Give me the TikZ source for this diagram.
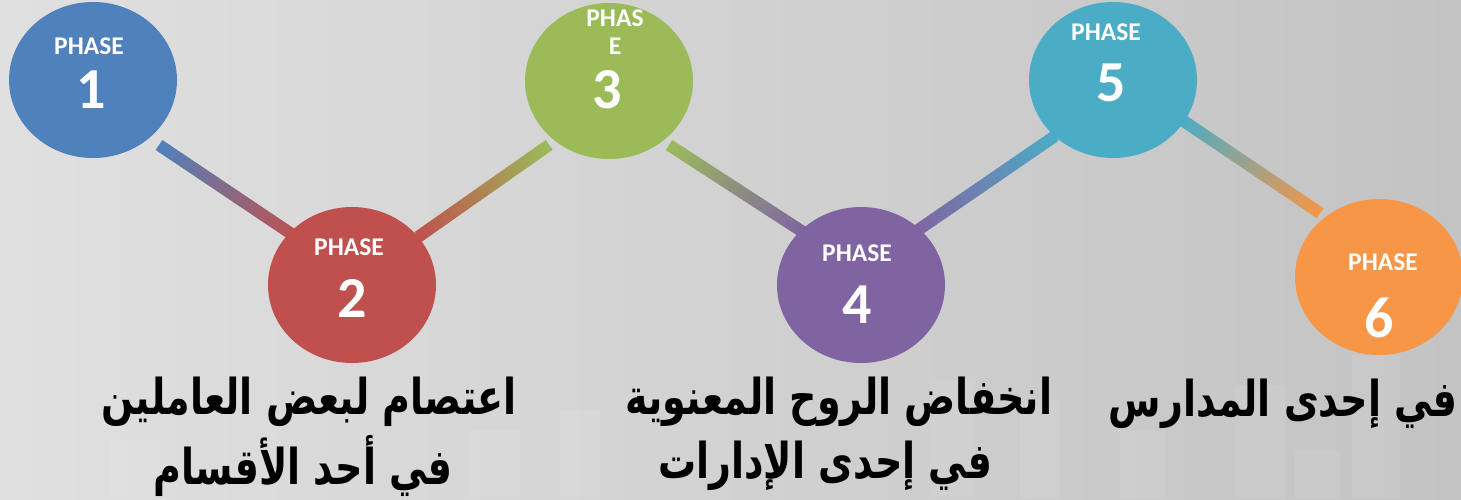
\documentclass[tikz,border=0pt]{standalone}
\usepackage{fontspec}
\usepackage{graphicx}
\usetikzlibrary{shapes.geometric,calc}
\setmainfont{Carlito}
\newfontfamily\arabicfont[Script=Arabic]{DejaVu Sans}
\TeXXeTstate=1
\definecolor{bgL}{HTML}{E0E0E0}
\definecolor{bgR}{HTML}{C3C3C3}
\definecolor{pblue}{HTML}{4F81BD}
\definecolor{pred}{HTML}{C0504D}
\definecolor{pgreen}{HTML}{9BBB59}
\definecolor{ppurple}{HTML}{8064A2}
\definecolor{paqua}{HTML}{4BACC6}
\definecolor{porange}{HTML}{F79646}
\tikzset{
  phasecircle/.style={ellipse, minimum width=168pt, minimum height=156pt, inner sep=0pt, draw=none},
  phaseword/.style={text=white, font=\bfseries\fontsize{25.5}{28}\selectfont, inner sep=0pt},
  phasenum/.style={text=white, font=\bfseries\fontsize{58}{60}\selectfont, inner sep=0pt},
  conn/.style={line width=12pt, line cap=butt},
  artext/.style={text=black, font=\arabicfont\bfseries\fontsize{38}{40}\selectfont, inner sep=0pt},
  skyline/.style={fill=white, opacity=0.08, draw=none}
}
\newcommand\artall[1]{\scalebox{1}[1.3]{\beginR #1\endR}}
\newcommand\gradconn[4]{%
  \foreach \k in {0,...,39}{%
    \pgfmathsetmacro\ta{\k/40}%
    \pgfmathsetmacro\tb{(\k+1.06)/40}%
    \pgfmathsetmacro\pc{100-(\k+0.5)*2.5}%
    \draw[conn, #3!\pc!#4] ($(#1)!\ta!(#2)$) -- ($(#1)!\tb!(#2)$);
  }}
\begin{document}
\begin{tikzpicture}[x=1pt,y=-1pt]
\useasboundingbox (0,0) rectangle (1461,499);
\clip (0,0) rectangle (1461,499);
\shade[left color=bgL, right color=bgR] (0,0) rectangle (1461,499);
% faint skyline
\fill[skyline] (110,440) rectangle (160,499);
\fill[skyline] (470,430) rectangle (520,499);
\fill[skyline] (560,410) rectangle (600,499);
\fill[skyline] (930,380) rectangle (975,499);
\fill[skyline] (1020,400) rectangle (1060,499);
\fill[skyline] (1120,430) rectangle (1165,499);
\fill[skyline] (1235,385) rectangle (1285,499);
\fill[skyline] (1295,450) rectangle (1340,499);
\fill[skyline] (1352,355) rectangle (1400,499);
% connector end points
\coordinate (a12) at (159,145); \coordinate (b12) at (299,239);
\coordinate (a23) at (418,237); \coordinate (b23) at (549,145);
\coordinate (a34) at (669,145); \coordinate (b34) at (803,232);
\coordinate (a45) at (918,230); \coordinate (b45) at (1055,136);
\coordinate (a56) at (1182,120); \coordinate (b56) at (1320,213);
\gradconn{a12}{b12}{pblue}{pred}
\gradconn{a23}{b23}{pred}{pgreen}
\gradconn{a34}{b34}{pgreen}{ppurple}
\gradconn{a45}{b45}{ppurple}{paqua}
\gradconn{a56}{b56}{paqua}{porange}
% circles
\node[phasecircle, fill=pblue]   (c1) at (93,80) {};
\node[phasecircle, fill=pred]    (c2) at (352,285) {};
\node[phasecircle, fill=pgreen]  (c3) at (609,81) {};
\node[phasecircle, fill=ppurple] (c4) at (861,285) {};
\node[phasecircle, fill=paqua]   (c5) at (1113,80) {};
\node[phasecircle, fill=porange] (c6) at (1379,277) {};
% labels
\node[phaseword] (w1) at (89,46) {PHASE};
\node[phasenum]  (n1) at (91,90) {1};
\node[phaseword] (w2) at (349,247) {PHASE};
\node[phasenum]  (n2) at (352,298) {2};
\node[phaseword] (w3a) at (615,18) {PHAS};
\node[phaseword] (w3b) at (615,46) {E};
\node[phasenum]  (n3) at (607,90) {3};
\node[phaseword] (w4) at (857,253) {PHASE};
\node[phasenum]  (n4) at (857,305) {4};
\node[phaseword] (w5) at (1106,32) {PHASE};
\node[phasenum]  (n5) at (1111,83) {5};
\node[phaseword] (w6) at (1383,262) {PHASE};
\node[phasenum]  (n6) at (1379,318) {6};
% Arabic texts
\node[artext] (t2a) at (309,402) {\artall{اعتصام لبعض العاملين}};
\node[artext] (t2b) at (303,466) {\artall{في أحد الأقسام}};
\node[artext] (t4a) at (839,402) {\artall{انخفاض الروح المعنوية}};
\node[artext] (t4b) at (825,466) {\artall{في إحدى الإدارات}};
\node[artext, anchor=east] (t6) at (1458,404) {\artall{في إحدى المدارس}};
\end{tikzpicture}
\end{document}
